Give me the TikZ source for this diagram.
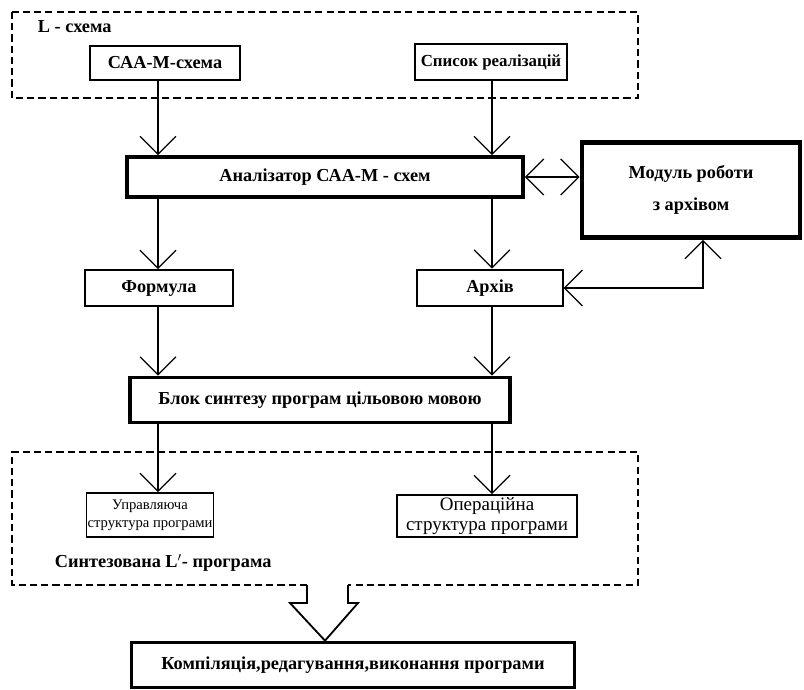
\documentclass[tikz,border=0pt]{standalone}
\usepackage{fontspec}
\setmainfont{Liberation Serif}
\usetikzlibrary{arrows.meta}
\begin{document}
\begin{tikzpicture}[x=0.025cm,y=-0.025cm,
    >={Straight Barb[length=4.5mm,width=9mm]},
    box/.style={draw,line width=1.3pt,inner sep=0pt,align=center,font=\fontsize{13}{15}\selectfont\bfseries},
    heavybox/.style={box,line width=2.6pt},
    plainbox/.style={draw,line width=1.2pt,inner sep=0pt,align=center},
    frame/.style={line width=0.9pt,dash pattern=on 5pt off 3pt},
    link/.style={line width=0.9pt}]
  \useasboundingbox (0,0) rectangle (804,690);
  \coordinate (colL) at (158,0);
  \coordinate (colR) at (492,0);
  \coordinate (modin) at (703,0);
  %% L - scheme
  \draw[frame] (12,12) rectangle (638,98);
  \node[anchor=west,font=\fontsize{13}{15}\selectfont\bfseries] (lsch) at (33,27) {L - схема};
  \node[box,minimum width=3.75cm,minimum height=0.85cm] (saa) at (165,63) {САА-М-схема};
  \node[box,minimum width=3.8cm,minimum height=0.9cm,font=\fontsize{12}{14}\selectfont\bfseries] (spys) at (491,62) {Список реалізацій};
  %% analyzer and archive module
  \node[heavybox,minimum width=9.9cm,minimum height=1cm] (an) at (325,177) {Аналізатор САА-М - схем};
  \node[heavybox,line width=3.4pt,minimum width=5.45cm,minimum height=2.375cm,font=\fontsize{13}{23}\selectfont\bfseries] (mod) at (691,190) {Модуль роботи\\з архівом};
  \node[box,minimum width=3.7cm,minimum height=0.9cm] (form) at (159,288) {Формула};
  \node[box,minimum width=3.63cm,minimum height=0.92cm] (arch) at (490,288) {Архів};
  %% synthesis
  \node[heavybox,minimum width=9.5cm,minimum height=1.125cm] (synth) at (320,400) {Блок синтезу програм цільовою мовою};
  \draw[frame] (307,585) -- (12,585) -- (12,452) -- (638,452) -- (638,585) -- (348,585);
  \node[plainbox,minimum width=3.18cm,minimum height=1.1cm,font=\fontsize{10.4}{12.5}\selectfont] (ctrl) at (150,515) {Управляюча\\структура програми};
  \node[plainbox,minimum width=4.5cm,minimum height=1.05cm,font=\fontsize{13.5}{14}\selectfont] (oper) at (487,516) {Операційна\\структура програми};
  \node[anchor=west,font=\fontsize{13}{15}\selectfont\bfseries] (lprog) at (50,563) {Синтезована L$'$- програма};
  \node[heavybox,minimum width=11.08cm,minimum height=1.125cm] (comp) at (353,665) {Компіляція,редагування,виконання програми};
  %% links
  \draw[link,->] (saa.south -| colL) -- (an.north -| colL);
  \draw[link,->] (spys.south -| colR) -- (an.north -| colR);
  \draw[link,<->] (an.east) -- (an.east -| mod.west);
  \draw[link,->] (an.south -| colL) -- (form.north -| colL);
  \draw[link,->] (an.south -| colR) -- (arch.north -| colR);
  \draw[link,<->] (arch.east) -| (mod.south -| modin);
  \draw[link,->] (form.south -| colL) -- (synth.north -| colL);
  \draw[link,->] (arch.south -| colR) -- (synth.north -| colR);
  \draw[link,->] (synth.south -| colL) -- (ctrl.north -| colL);
  \draw[link,->] (synth.south -| colR) -- (oper.north -| colR);
  %% hollow arrow
  \draw[line width=1.3pt,line join=miter] (307,585) -- (307,603) -- (290,603) -- (325,0 |- comp.north) -- (358,603) -- (348,603) -- (348,585);
\end{tikzpicture}
\end{document}
